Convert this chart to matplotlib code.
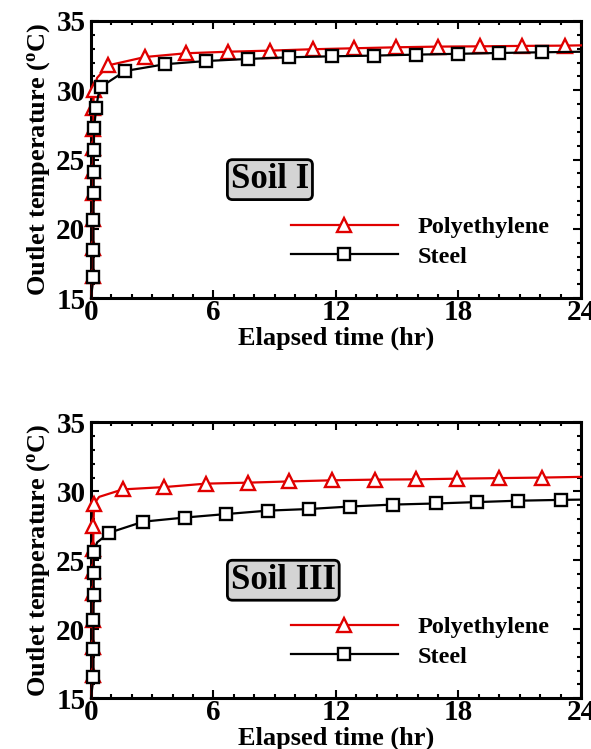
import matplotlib
matplotlib.use("Agg")
import matplotlib.pyplot as plt
from matplotlib.ticker import MultipleLocator

plt.rcParams['font.family'] = ['Liberation Serif', 'DejaVu Serif']
plt.rcParams['font.weight'] = 'bold'
plt.rcParams['mathtext.fontset'] = 'custom'
plt.rcParams['mathtext.rm'] = 'Liberation Serif:bold'
plt.rcParams['mathtext.it'] = 'Liberation Serif:bold'

# ---- Soil I ----
pe1_t = [0, 0.1, 0.1, 0.1, 0.1, 0.11, 0.11, 0.12, 0.12, 0.13, 0.3, 0.85, 2.65,
         4.66, 6.7, 8.77, 10.85, 12.9, 14.95, 17.0, 19.07, 21.1, 23.2, 24]
pe1_T = [15, 16.6, 18.6, 20.7, 22.6, 24.2, 25.8, 27.2, 28.7, 30.0, 30.9, 31.8, 32.4,
         32.67, 32.78, 32.86, 32.96, 33.03, 33.1, 33.15, 33.17, 33.2, 33.22, 33.24]
pe1_mark = [1, 2, 3, 4, 5, 6, 7, 8, 9, 11, 12, 13, 14, 15, 16, 17, 18, 19, 20, 21, 22]

st1_t = [0, 0.12, 0.12, 0.12, 0.13, 0.13, 0.14, 0.15, 0.25, 0.35, 0.5, 1.67, 3.63,
         5.64, 7.68, 9.7, 11.8, 13.84, 15.9, 17.97, 20.0, 22.1, 24]
st1_T = [15, 16.55, 18.5, 20.65, 22.55, 24.1, 25.7, 27.25, 28.7, 29.6, 30.26, 31.39, 31.88,
         32.11, 32.26, 32.38, 32.45, 32.5, 32.57, 32.63, 32.69, 32.74, 32.78]
st1_mark = [1, 2, 3, 4, 5, 6, 7, 8, 10, 11, 12, 13, 14, 15, 16, 17, 18, 19, 20, 21]

# ---- Soil III ----
pe3_t = [0, 0.1, 0.1, 0.1, 0.1, 0.11, 0.11, 0.12, 0.15, 0.4, 1.55, 3.59, 5.64,
         7.68, 9.72, 11.8, 13.9, 15.9, 17.95, 20.0, 22.1, 24]
pe3_T = [15, 16.7, 18.7, 20.7, 22.6, 24.2, 25.8, 27.5, 29.1, 29.6, 30.14, 30.31, 30.56,
         30.63, 30.72, 30.8, 30.85, 30.87, 30.92, 30.96, 31.0, 31.05]
pe3_mark = [1, 2, 3, 4, 5, 6, 7, 8, 10, 11, 12, 13, 14, 15, 16, 17, 18, 19, 20]

st3_t = [0, 0.12, 0.12, 0.12, 0.13, 0.13, 0.14, 0.3, 0.9, 2.56, 4.6, 6.6, 8.66,
         10.7, 12.7, 14.8, 16.9, 18.9, 20.9, 23.0, 24]
st3_T = [15, 16.55, 18.55, 20.65, 22.45, 24.05, 25.6, 26.3, 27.0, 27.8, 28.1, 28.35, 28.6,
         28.72, 28.9, 29.04, 29.12, 29.22, 29.32, 29.38, 29.4]
st3_mark = [1, 2, 3, 4, 5, 6, 8, 9, 10, 11, 12, 13, 14, 15, 16, 17, 18, 19]

panels = [
    ("Soil I", pe1_t, pe1_T, pe1_mark, st1_t, st1_T, st1_mark),
    ("Soil III", pe3_t, pe3_T, pe3_mark, st3_t, st3_T, st3_mark),
]

xticks = [0, 6, 12, 18, 24]
yticks = [15, 20, 25, 30, 35]

fig = plt.figure(figsize=(5.91, 7.49), dpi=100)
rects = [[0.154, 0.602, 0.829, 0.370], [0.154, 0.068, 0.829, 0.368]]

for rect, (name, pt, pT, pm, st, sT, sm) in zip(rects, panels):
    ax = fig.add_axes(rect)
    ax.plot(pt, pT, color='#e00000', lw=1.6, marker='^', markevery=pm,
            markersize=10, markerfacecolor='white', markeredgecolor='#e00000',
            markeredgewidth=1.7, label='Polyethylene', clip_on=False, zorder=3)
    ax.plot(st, sT, color='black', lw=1.6, marker='s', markevery=sm,
            markersize=9, markerfacecolor='white', markeredgecolor='black',
            markeredgewidth=1.7, label='Steel', clip_on=False, zorder=4)
    ax.set_xlim(0, 24)
    ax.set_ylim(15, 35)
    ax.set_xticks(xticks)
    ax.set_yticks(yticks)
    ax.xaxis.set_minor_locator(MultipleLocator(1))
    ax.yaxis.set_minor_locator(MultipleLocator(1))
    ax.tick_params(which='both', direction='in', top=True, right=True, width=1.5)
    ax.tick_params(which='major', length=6, labelsize=21)
    ax.tick_params(axis='x', which='major', pad=1)
    ax.tick_params(axis='y', which='major', pad=4)
    ax.tick_params(which='minor', length=3)
    for sp in ax.spines.values():
        sp.set_linewidth(2.2)
        sp.set_zorder(2)
    ax.set_xlabel('Elapsed time (hr)', fontsize=19, fontweight='bold', labelpad=0)
    ax.set_ylabel(r'Outlet temperature ($^{\mathrm{o}}$C)', fontsize=19,
                  fontweight='bold', labelpad=3)
    ax.text(6.85, 23.55, name, fontsize=25, fontweight='bold', ha='left', va='center',
            bbox=dict(boxstyle='round,pad=0.1,rounding_size=0.15', facecolor='#d4d4d4',
                      edgecolor='black', linewidth=2))
    ax.legend(loc='center left', bbox_to_anchor=(0.408, 0.203), frameon=False,
              handlelength=4.4, handletextpad=0.8, labelspacing=0.3,
              borderpad=0, borderaxespad=0, numpoints=1,
              prop={'weight': 'bold', 'size': 17.5})

fig.savefig('out.png', dpi=100, facecolor='white')
